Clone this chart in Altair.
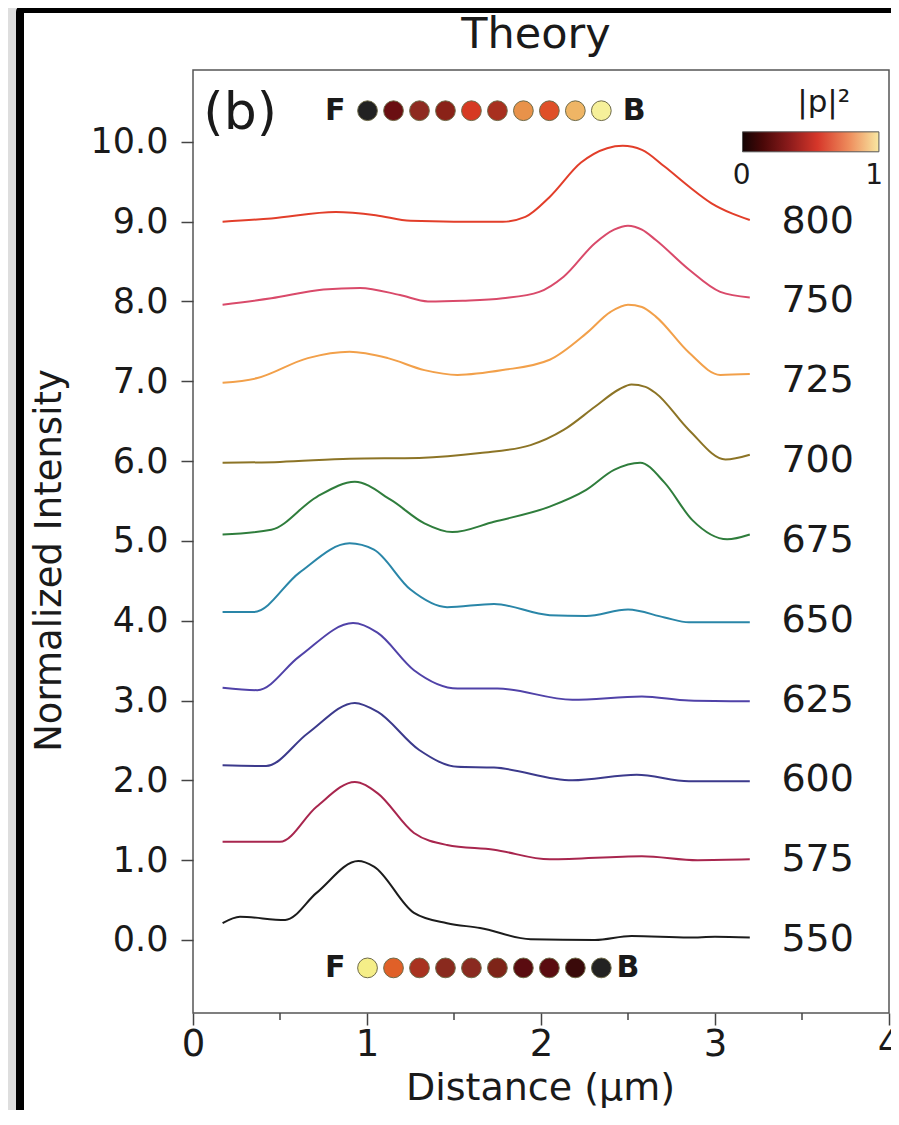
import altair as alt
import pandas as pd

FONT = "DejaVu Sans"

# ---------------- data ----------------
wavelengths = [550, 575, 600, 625, 650, 675, 700, 725, 750, 800]
line_colors = ["#1c1c1c", "#a8264e", "#3c3a8c", "#5042a8", "#2a86a8",
               "#2f7d3c", "#8c7426", "#f2a04a", "#d94a6a", "#e23e2a"]

x_550 = [0.17, 0.27, 0.53, 0.71, 0.95, 1.04, 1.27, 1.46, 1.65, 1.94, 2.31, 2.52, 2.85, 3.0, 3.2]
y_550 = [0.21, 0.29, 0.25, 0.59, 0.99, 0.92, 0.34, 0.21, 0.15, 0.01, 0.0, 0.05, 0.03, 0.04, 0.03]

x_575 = [0.17, 0.5, 0.71, 0.93, 1.06, 1.27, 1.46, 1.73, 2.05, 2.58, 2.9, 3.2]
y_575 = [1.23, 1.23, 1.67, 1.98, 1.84, 1.34, 1.19, 1.13, 1.01, 1.05, 1.0, 1.01]

x_600 = [0.17, 0.42, 0.66, 0.93, 1.06, 1.3, 1.52, 1.73, 2.18, 2.55, 2.85, 3.2]
y_600 = [2.19, 2.18, 2.59, 2.97, 2.86, 2.38, 2.17, 2.16, 2.0, 2.07, 1.99, 1.99]

x_625 = [0.17, 0.37, 0.61, 0.92, 1.06, 1.27, 1.52, 1.75, 2.18, 2.58, 2.85, 3.2]
y_625 = [3.16, 3.13, 3.55, 3.97, 3.85, 3.38, 3.15, 3.15, 3.01, 3.05, 3.0, 2.99]

x_650 = [0.17, 0.35, 0.61, 0.9, 1.04, 1.25, 1.46, 1.73, 2.05, 2.26, 2.5, 2.71, 2.85, 3.2]
y_650 = [4.11, 4.11, 4.6, 4.97, 4.89, 4.39, 4.17, 4.21, 4.07, 4.06, 4.14, 4.04, 3.98, 3.98]

x_675 = [0.17, 0.45, 0.71, 0.93, 1.14, 1.33, 1.49, 1.73, 2.05, 2.26, 2.42, 2.57, 2.71, 2.87, 3.07, 3.2]
y_675 = [5.08, 5.14, 5.55, 5.74, 5.51, 5.22, 5.11, 5.24, 5.43, 5.64, 5.89, 5.98, 5.73, 5.26, 5.02, 5.08]

x_700 = [0.17, 0.5, 0.9, 1.3, 1.65, 1.94, 2.13, 2.31, 2.45, 2.52, 2.6, 2.66, 2.85, 3.06, 3.2]
y_700 = [5.98, 5.99, 6.03, 6.04, 6.1, 6.2, 6.39, 6.68, 6.9, 6.96, 6.93, 6.85, 6.39, 6.02, 6.08]

x_725 = [0.17, 0.37, 0.66, 0.9, 1.12, 1.33, 1.52, 1.78, 2.05, 2.26, 2.4, 2.5, 2.58, 2.66, 2.85, 3.03, 3.2]
y_725 = [6.98, 7.04, 7.29, 7.37, 7.29, 7.14, 7.08, 7.14, 7.27, 7.6, 7.87, 7.96, 7.93, 7.81, 7.36, 7.08, 7.09]

x_750 = [0.17, 0.45, 0.75, 0.96, 1.19, 1.35, 1.55, 1.78, 1.99, 2.13, 2.31, 2.42, 2.5, 2.58, 2.66, 2.85, 3.03, 3.2]
y_750 = [7.96, 8.04, 8.15, 8.17, 8.08, 8.0, 8.01, 8.04, 8.12, 8.31, 8.73, 8.9, 8.95, 8.9, 8.77, 8.4, 8.12, 8.05]

x_800 = [0.17, 0.45, 0.82, 1.05, 1.25, 1.5, 1.78, 1.91, 2.05, 2.23, 2.38, 2.47, 2.58, 2.71, 2.85, 2.98, 3.1, 3.2]
y_800 = [9.0, 9.04, 9.12, 9.08, 9.01, 9.0, 9.0, 9.06, 9.31, 9.74, 9.92, 9.95, 9.9, 9.69, 9.44, 9.23, 9.1, 9.02]

curve_x = [x_550, x_575, x_600, x_625, x_650, x_675, x_700, x_725, x_750, x_800]
curve_y = [y_550, y_575, y_600, y_625, y_650, y_675, y_700, y_725, y_750, y_800]

y_ticks = list(range(0, 11))
x_ticks = [0, 1, 2, 3, 4]
x_minor_ticks = [0.5, 1.5, 2.5, 3.5]

dots_top = ["#222222", "#6a0f12", "#8e2a20", "#8a2218", "#d63a22",
            "#a8301f", "#e8924a", "#df5028", "#efb565", "#f6f09a"]
dots_bottom = ["#f5ee88", "#e06028", "#a83220", "#8a2a1e", "#8a2a20",
               "#7e2418", "#5a0c10", "#5a0c10", "#3a0a0a", "#222222"]

cbar_stops = [(0.0, "#140404"), (0.15, "#4a0808"), (0.35, "#8e1c1c"),
              (0.55, "#d6372a"), (0.78, "#ee8c5c"), (1.0, "#f8e8a2")]

# ---------------- tables ----------------
rows = []
for wl, xs, ys in zip(wavelengths, curve_x, curve_y):
    for i, (xv, yv) in enumerate(zip(xs, ys)):
        rows.append({"wl": str(wl), "x": xv, "y": yv, "i": i})
curves_df = pd.DataFrame(rows)

wl_labels_df = pd.DataFrame({"label": [str(w) for w in wavelengths],
                             "x": [3.59] * len(wavelengths),
                             "y": [float(k) for k in range(len(wavelengths))]})

dot_rows = []
for k, c in enumerate(dots_top):
    dot_rows.append({"k": k, "c": c, "row": 10.39})
for k, c in enumerate(dots_bottom):
    dot_rows.append({"k": k, "c": c, "row": -0.35})
dots_df = pd.DataFrame(dot_rows)

text_normal_df = pd.DataFrame({
    "label": ["Theory", "(b)", "|p|²", "0", "1"],
    "x": [1.971, 0.271, 3.625, 3.153, 3.914],
    "y": [11.34, 10.36, 10.49, 9.574, 9.574],
    "fs": [43, 52, 31, 28, 28],
})
text_bold_df = pd.DataFrame({
    "label": ["F", "B", "F", "B"],
    "x": [0.818, 2.536, 0.818, 2.50],
    "y": [10.39, 10.39, -0.35, -0.35],
    "fs": [30, 30, 30, 30],
})
cbar_df = pd.DataFrame({"x0": [3.158], "x1": [3.942], "y0": [9.875], "y1": [10.125]})
minor_df = pd.DataFrame({"x": x_minor_ticks})
one = pd.DataFrame({"d": [0]})

# ---------------- scales / axes ----------------
xscale = alt.Scale(domain=[0, 4], nice=False, zero=False)
yscale = alt.Scale(domain=[-0.915, 10.9], nice=False, zero=False)

xaxis = alt.Axis(title="Distance (μm)", values=x_ticks, format="d", grid=False,
                 domain=False, tickSize=12, tickWidth=1.5, tickColor="#444",
                 labelFont=FONT, labelFontSize=37, labelColor="#1a1a1a",
                 labelPadding=1, labelFlush=False, labelOverlap=False,
                 titleFont=FONT, titleFontSize=38, titleFontWeight="normal",
                 titleColor="#1a1a1a", titleX=347, titleY=86,
                 titleAlign="center", titleBaseline="alphabetic", zindex=1)
yaxis = alt.Axis(title="Normalized Intensity", values=y_ticks, format=".1f",
                 grid=False, domain=False, tickSize=12, tickWidth=1.5,
                 tickColor="#444", labelFont=FONT, labelFontSize=35,
                 labelColor="#1a1a1a", labelPadding=13, labelOverlap=False,
                 labelFlush=False,
                 titleFont=FONT, titleFontSize=37, titleFontWeight="normal",
                 titleColor="#1a1a1a", titleX=-133, titleY=490, titleAngle=270,
                 titleAlign="center", titleBaseline="alphabetic", zindex=1)


def X(field):
    return alt.X(field, type="quantitative", scale=xscale, axis=xaxis)


def Y(field):
    return alt.Y(field, type="quantitative", scale=yscale, axis=yaxis)


# ---------------- layers ----------------
panel = alt.Chart(one).mark_rect(fill="white", stroke="black", strokeWidth=8,
                                 cornerRadius=3).encode(
    x=alt.value(-173), x2=alt.value(740), y=alt.value(-61), y2=alt.value(1090))

frame = alt.Chart(one).mark_rect(filled=False, stroke="#555555", strokeWidth=1.5).encode(
    x=alt.value(0), x2=alt.value(696), y=alt.value(0), y2=alt.value(943))

lines = alt.Chart(curves_df).mark_line(strokeWidth=2, interpolate="monotone").encode(
    x=X("x"), y=Y("y"),
    color=alt.Color("wl:N", scale=alt.Scale(domain=[str(w) for w in wavelengths],
                                            range=line_colors), legend=None),
    order=alt.Order("i:Q"),
)

wl_text = alt.Chart(wl_labels_df).mark_text(font=FONT, fontSize=38, color="#1a1a1a",
                                            align="center", baseline="middle").encode(
    x=X("x"), y=Y("y"), text="label:N")

txt_n = alt.Chart(text_normal_df).mark_text(font=FONT, color="#1a1a1a",
                                            align="center", baseline="middle").encode(
    x=X("x"), y=Y("y"), text="label:N", size=alt.Size("fs:Q", scale=None))

txt_b = alt.Chart(text_bold_df).mark_text(font=FONT, fontWeight="bold", color="#1a1a1a",
                                          align="center", baseline="middle").encode(
    x=X("x"), y=Y("y"), text="label:N", size=alt.Size("fs:Q", scale=None))

dots = alt.Chart(dots_df).transform_calculate(
    dx="1.003 + datum.k * 0.1493"
).mark_point(filled=True, shape="circle", size=390, stroke="#6e6a48",
             strokeWidth=1, opacity=1).encode(
    x=X("dx"), y=Y("row"), fill=alt.Fill("c:N", scale=None))

cbar = alt.Chart(cbar_df).mark_rect(
    fill=alt.LinearGradient(gradient="linear",
                            stops=[alt.GradientStop(offset=o, color=c) for o, c in cbar_stops],
                            x1=0, x2=1, y1=0, y2=0),
    stroke="#555555", strokeWidth=1).encode(
    x=X("x0"), x2="x1", y=Y("y0"), y2="y1")

minor = alt.Chart(minor_df).mark_rule(color="#444444", strokeWidth=1.5).encode(
    x=X("x"), y=alt.value(943), y2=alt.value(950))

chart = alt.layer(panel, frame, lines, wl_text, txt_n, txt_b, dots, cbar, minor).properties(
    width=696, height=943,
    padding={"left": 185, "top": 62, "right": 2, "bottom": 97},
    autosize=alt.AutoSizeParams(type="none"),
    background="#dedede",
).configure_view(strokeWidth=0)

chart.save("out.html", embed_options={"renderer": "svg", "actions": False})
